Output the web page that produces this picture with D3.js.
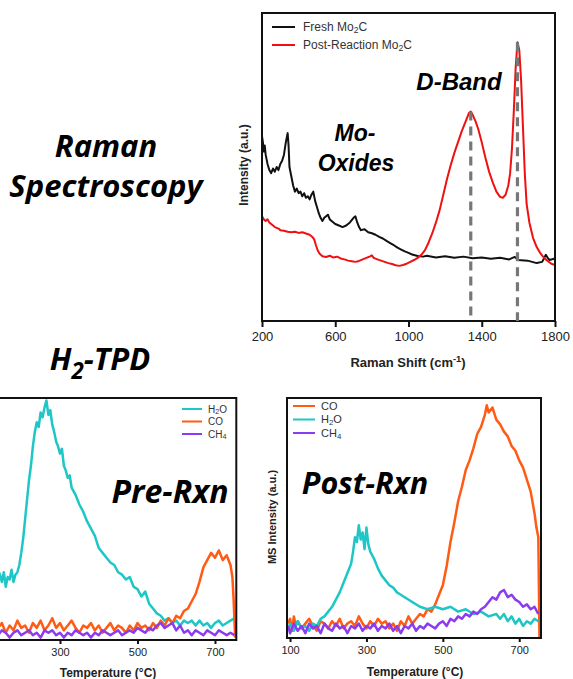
<!DOCTYPE html>
<html>
<head>
<meta charset="utf-8">
<script src="https://cdn.jsdelivr.net/npm/d3@7"></script>
<style>
  body { margin: 0; background: #fff; }
  svg { display: block; }
  .tick text { font-family: "Liberation Sans", Arial, sans-serif; }
  .big { font-family: "Open Sans", Lato, sans-serif; font-weight: bold; font-style: italic; }
  .note { font-family: "Liberation Sans", Arial, sans-serif; font-weight: bold; font-style: italic; }
</style>
</head>
<body>
<div id="chart"></div>
<script>
// Raman spectra, intensity in arbitrary units
var ramanTicks = [200, 600, 1000, 1400, 1800];
var freshMo2C = [[200,60],[205,58],[210,55],[215,57],[220,54],[230,51],[240,49],[250,48],[260,49.5],[270,48.5],[280,50],[290,49],[300,51],[310,52],[320,54],[330,58],[340,61],[345,57],[350,50],[360,47],[370,44],[380,42],[390,43],[400,41.5],[410,42],[420,40.5],[430,41.5],[440,40],[450,40.5],[460,39.5],[470,41],[480,42],[490,39],[500,37],[510,35],[520,33.5],[530,32.5],[540,33.5],[550,34],[560,34.5],[570,33],[580,32.5],[590,32],[600,31.5],[620,31],[640,30.5],[660,31],[680,32],[700,33.5],[710,34],[720,32],[730,30.5],[740,29.5],[760,29.8],[780,28.8],[800,28.5],[820,28],[840,27.3],[860,26.8],[880,26],[900,25.3],[920,24.6],[940,23.8],[960,23.2],[980,22.6],[1000,22.1],[1020,21.6],[1050,21.1],[1080,20.9],[1100,21.2],[1150,20.6],[1200,21],[1250,20.5],[1300,20.9],[1350,20.4],[1400,20.6],[1450,20.2],[1500,20.5],[1550,20],[1580,20.8],[1600,19.8],[1650,19.6],[1700,18.8],[1730,19.2],[1750,21.5],[1760,20.5],[1770,19.8],[1800,20.3]];
var postMo2C = [[200,34],[210,33],[220,32.5],[230,33],[240,32],[250,31.5],[270,30.5],[290,30],[300,29.5],[320,29.3],[340,29],[360,28.8],[380,29],[400,28.6],[420,28.8],[440,28.4],[460,28],[475,27.3],[485,26.5],[495,24.5],[505,22.8],[515,21.8],[530,21],[550,20.8],[570,21.2],[590,20.6],[610,20.9],[630,20.3],[650,20],[670,19.6],[690,19.4],[710,19.2],[730,19.5],[750,20],[770,20.5],[790,21],[800,21.3],[810,20.5],[830,20],[850,19.6],[870,19.2],[890,18.8],[910,18.5],[930,18.1],[950,17.9],[970,18.2],[990,18.6],[1010,19.2],[1030,19.8],[1050,20.5],[1070,21.5],[1090,23],[1110,25.5],[1130,28.5],[1150,32],[1170,36],[1190,41],[1210,46],[1230,50.5],[1250,54.5],[1270,58],[1290,61.5],[1310,64.5],[1330,67.5],[1340,68],[1350,67],[1365,65],[1380,62.5],[1400,58],[1420,53],[1440,48.5],[1460,45],[1480,42],[1500,40.3],[1515,40],[1530,41],[1545,44],[1555,48],[1565,56],[1575,68],[1585,82],[1595,90.5],[1605,88],[1615,78],[1625,63],[1635,48],[1645,38],[1660,32],[1680,27],[1700,24],[1720,22],[1740,20.5],[1760,19.5],[1780,18.6],[1800,18.2]];
// band markers: [shift, peak intensity]
var bandMarks = [[1340, 68], [1595, 90.5]];

// H2-TPD, MS intensity in arbitrary units
var tpdTicksPre = [300, 500, 700];
var tpdTicksPost = [100, 300, 500, 700];
var preH2O = [[140,29],[145,27],[150,24],[155,28],[160,22],[165,26],[170,25],[175,29],[180,24],[185,27],[190,28],[195,31],[200,36],[205,42],[210,50],[215,58],[220,66],[225,72],[230,80],[235,86],[240,90],[245,88],[250,94],[255,92],[260,96],[265,99],[270,93],[275,95],[280,89],[285,86],[290,82],[295,80],[300,77],[305,79],[310,72],[315,70],[320,67],[325,68],[330,63],[340,60],[350,56],[360,53],[370,49],[380,46],[390,43],[400,38],[410,36],[420,34],[430,32],[440,31],[450,28],[460,27],[470,25],[480,26],[490,22],[500,21],[510,18],[520,20],[530,15],[540,13],[550,11],[560,10],[570,8],[580,9],[590,7],[600,8],[610,6],[620,8],[630,7],[640,8],[650,6],[660,8],[670,6],[680,7],[690,5],[700,7],[710,8],[720,6],[730,7],[740,8],[750,9]];
var preCO = [[140,5],[150,7],[160,3],[170,6],[180,4],[190,8],[200,5],[210,6],[220,3],[230,7],[240,5],[250,8],[260,4],[270,6],[280,9],[290,5],[300,7],[310,4],[320,6],[330,8],[340,5],[350,3],[360,6],[370,5],[380,7],[390,4],[400,6],[410,3],[420,5],[430,7],[440,4],[450,6],[460,5],[470,3],[480,6],[490,4],[500,7],[510,5],[520,6],[530,4],[540,7],[550,5],[560,8],[570,6],[580,9],[590,7],[600,10],[610,9],[620,12],[630,13],[640,16],[650,19],[660,24],[670,30],[680,33],[690,36],[700,34],[710,37],[720,33],[730,35],[740,31],[745,26],[748,17],[752,1]];
var preCH4 = [[140,2],[150,4],[160,3],[170,1],[180,3],[190,4],[200,2],[210,3],[220,4],[230,2],[240,3],[250,1],[260,4],[270,3],[280,4],[290,2],[300,3],[310,1],[320,3],[330,2],[340,4],[350,3],[360,2],[370,3],[380,1],[390,3],[400,2],[410,4],[420,3],[430,2],[440,3],[450,4],[460,2],[470,3],[480,4],[490,3],[500,5],[510,4],[520,3],[530,5],[540,4],[550,6],[560,7],[570,5],[580,6],[590,7],[600,4],[610,6],[620,3],[630,4],[640,2],[650,4],[660,3],[670,2],[680,4],[690,3],[700,2],[710,4],[720,3],[730,2],[740,3],[750,2]];
var postCO = [[95,6],[100,8],[105,3],[110,9],[115,5],[120,7],[130,4],[140,6],[150,8],[160,5],[170,3],[180,7],[190,6],[200,4],[210,7],[220,5],[230,8],[240,4],[250,6],[260,7],[270,5],[280,9],[290,6],[300,4],[310,7],[320,5],[330,8],[340,6],[350,7],[360,4],[370,6],[380,3],[390,7],[400,5],[410,9],[420,6],[430,8],[440,10],[450,9],[460,12],[470,11],[480,14],[490,18],[500,22],[510,30],[520,40],[530,48],[540,57],[550,63],[560,70],[570,74],[580,79],[590,85],[600,88],[610,93],[615,97],[620,94],[630,96],[640,91],[650,89],[660,86],[670,84],[680,80],[690,78],[700,74],[710,71],[720,66],[730,61],[740,52],[745,46],[750,42],[753,0]];
var postH2O = [[95,4],[100,6],[110,3],[120,7],[130,4],[140,5],[150,3],[160,6],[170,5],[180,8],[190,9],[200,11],[210,13],[220,16],[230,19],[240,23],[250,27],[260,31],[265,36],[270,42],[275,40],[280,47],[285,41],[290,44],[295,37],[300,46],[305,39],[310,36],[320,33],[330,29],[340,26],[350,24],[360,22],[370,21],[380,19],[390,18],[400,17],[420,15],[440,13],[460,12],[480,13],[500,12],[520,13],[540,11],[560,12],[580,10],[600,11],[620,9],[640,10],[650,8],[660,10],[670,7],[680,9],[690,6],[700,8],[710,5],[720,7],[730,6],[740,8],[750,7]];
var postCH4 = [[95,5],[100,2],[110,6],[120,3],[130,5],[140,2],[150,6],[160,4],[170,5],[180,2],[190,6],[200,4],[210,3],[220,6],[230,4],[240,5],[250,2],[260,5],[270,4],[280,6],[290,3],[300,5],[310,4],[320,6],[330,3],[340,5],[350,4],[360,6],[370,3],[380,5],[390,2],[400,5],[410,4],[420,6],[430,3],[440,5],[450,4],[460,6],[470,5],[480,4],[490,6],[500,7],[510,5],[520,8],[530,7],[540,9],[550,8],[560,10],[570,9],[580,11],[590,10],[600,12],[610,13],[620,15],[630,17],[640,16],[650,19],[660,20],[670,17],[680,18],[690,16],[700,15],[710,13],[720,14],[730,12],[740,13],[750,10]];

var colH2O = "#1ec6c6", colCO = "#ff5b14", colCH4 = "#8c3cf0";

var WIDTH = 573, HEIGHT = 679;
var svg = d3.select("#chart").append("svg")
    .attr("width", WIDTH)
    .attr("height", HEIGHT);

// writes text pieces, "sub" / "sup" pieces get shifted, others sit on the baseline
var addSub = function (text, parts, subShift) {
    var shift = 0;
    var down = subShift || 0.3;
    parts.forEach(function (p) {
        var target = p[1] === "sub" ? down : (p[1] === "sup" ? -0.4 : 0);
        var t = text.append("tspan").text(p[0]);
        if (p[1]) t.attr("font-size", "0.72em");
        var dy = target - shift;
        // em of a small tspan is smaller, so scale the shift
        if (dy !== 0) t.attr("dy", (p[1] ? dy / 0.72 : dy) + "em");
        shift = target;
    });
};

var drawPanel = function (opt) {
    var g = svg.append("g");
    var x = d3.scaleLinear().domain(opt.xDomain).range([opt.left, opt.right]);
    var y = d3.scaleLinear().domain([0, 100]).range([opt.bottom, opt.top]);

    var clipId = "clip" + opt.id;
    svg.append("clipPath").attr("id", clipId)
        .append("rect")
        .attr("x", opt.left).attr("y", opt.top)
        .attr("width", opt.right - opt.left).attr("height", opt.bottom - opt.top);

    var line = d3.line().x(function (d) { return x(d[0]); }).y(function (d) { return y(d[1]); });
    var plot = g.append("g").attr("clip-path", "url(#" + clipId + ")");
    opt.series.forEach(function (s) {
        plot.append("path")
            .datum(s.data)
            .attr("fill", "none")
            .attr("stroke", s.color)
            .attr("stroke-width", opt.lineWidth)
            .attr("stroke-linejoin", "round")
            .attr("d", line);
    });

    g.append("rect")
        .attr("x", opt.left).attr("y", opt.top)
        .attr("width", opt.right - opt.left).attr("height", opt.bottom - opt.top)
        .attr("fill", "none").attr("stroke", "#111").attr("stroke-width", 2);

    var ax = g.append("g")
        .attr("transform", "translate(0," + opt.bottom + ")")
        .call(d3.axisBottom(x).tickValues(opt.ticks).tickFormat(d3.format("d"))
            .tickSize(opt.tickSize).tickSizeOuter(0).tickPadding(opt.tickPad));
    ax.select(".domain").remove();
    ax.selectAll(".tick line").attr("stroke", "#111").attr("stroke-width", 2);
    ax.selectAll(".tick text").attr("font-size", opt.tickFont).attr("fill", "#222");

    // legend
    opt.series.forEach(function (s, i) {
        var ly = opt.legY + i * opt.legDy;
        g.append("line")
            .attr("x1", opt.legX).attr("x2", opt.legX + opt.legLen)
            .attr("y1", ly).attr("y2", ly)
            .attr("stroke", s.color).attr("stroke-width", 2);
        var t = g.append("text")
            .attr("x", opt.legX + opt.legLen + opt.legGap).attr("y", ly + opt.legFont * 0.36)
            .attr("font-family", "Liberation Sans, Arial, sans-serif")
            .attr("font-size", opt.legFont)
            .attr("fill", "#333");
        addSub(t, s.label, 0.18);
    });

    return {x: x, y: y, g: g};
};

// Raman panel
var raman = drawPanel({
    id: "raman", xDomain: [200, 1800], left: 262, right: 555, top: 13, bottom: 321,
    ticks: ramanTicks, tickSize: 6, tickPad: 5, tickFont: 13, lineWidth: 2,
    legX: 272, legY: 27, legDy: 18, legLen: 23, legGap: 8, legFont: 12,
    series: [
        {data: freshMo2C, color: "#111", label: [["Fresh Mo"], ["2", "sub"], ["C"]]},
        {data: postMo2C, color: "#f01010", label: [["Post-Reaction Mo"], ["2", "sub"], ["C"]]}
    ]
});
raman.g.selectAll(".mark").data(bandMarks).enter().append("line")
    .attr("x1", function (d) { return raman.x(d[0]); })
    .attr("x2", function (d) { return raman.x(d[0]); })
    .attr("y1", function (d) { return raman.y(d[1]); })
    .attr("y2", 321)
    .attr("stroke", "#777").attr("stroke-width", 3.2)
    .attr("stroke-dasharray", "9,6");
raman.g.append("text")
    .attr("x", 408).attr("y", 367)
    .attr("text-anchor", "middle")
    .attr("font-family", "Liberation Sans, Arial, sans-serif")
    .attr("font-weight", "bold").attr("font-size", 13).attr("fill", "#222")
    .call(function (t) { addSub(t, [["Raman Shift (cm"], ["-1", "sup"], [")"]]); });
raman.g.append("text")
    .attr("transform", "translate(248,165) rotate(-90)")
    .attr("text-anchor", "middle")
    .attr("font-family", "Liberation Sans, Arial, sans-serif")
    .attr("font-weight", "bold").attr("font-size", 12).attr("fill", "#222")
    .text("Intensity (a.u.)");

// Pre-reaction TPD
var pre = drawPanel({
    id: "pre", xDomain: [40, 755], left: -40.75, right: 236.3, top: 398, bottom: 640,
    ticks: tpdTicksPre, tickSize: 4, tickPad: 4, tickFont: 11, lineWidth: 2.5,
    legX: 182, legY: 409, legDy: 12.5, legLen: 20, legGap: 6, legFont: 10,
    series: [
        {data: preH2O, color: colH2O, label: [["H"], ["2", "sub"], ["O"]]},
        {data: preCO, color: colCO, label: [["CO"]]},
        {data: preCH4, color: colCH4, label: [["CH"], ["4", "sub"]]}
    ]
});

// Post-reaction TPD
var post = drawPanel({
    id: "post", xDomain: [92, 757], left: 287, right: 541, top: 398, bottom: 638,
    ticks: tpdTicksPost, tickSize: 4, tickPad: 4, tickFont: 11, lineWidth: 2.5,
    legX: 293, legY: 406, legDy: 13.5, legLen: 22, legGap: 6, legFont: 11,
    series: [
        {data: postCO, color: colCO, label: [["CO"]]},
        {data: postH2O, color: colH2O, label: [["H"], ["2", "sub"], ["O"]]},
        {data: postCH4, color: colCH4, label: [["CH"], ["4", "sub"]]}
    ]
});

[[108, 677], [415, 676]].forEach(function (p) {
    svg.append("text")
        .attr("x", p[0]).attr("y", p[1])
        .attr("text-anchor", "middle")
        .attr("font-family", "Liberation Sans, Arial, sans-serif")
        .attr("font-weight", "bold").attr("font-size", 12).attr("fill", "#222")
        .text("Temperature (\u00b0C)");
});
svg.append("text")
    .attr("transform", "translate(276,517) rotate(-90)")
    .attr("text-anchor", "middle")
    .attr("font-family", "Liberation Sans, Arial, sans-serif")
    .attr("font-weight", "bold").attr("font-size", 11).attr("fill", "#222")
    .text("MS Intensity (a.u.)");

// annotations
var big = function (x, y, size, parts) {
    var t = svg.append("text").attr("class", "big")
        .attr("x", x).attr("y", y)
        .attr("text-anchor", "middle")
        .attr("font-size", size).attr("fill", "#000");
    addSub(t, parts);
};
big(106, 157, 31, [["Raman"]]);
big(106, 197, 31, [["Spectroscopy"]]);
big(100, 370, 31, [["H"], ["2", "sub"], ["-TPD"]]);
big(170, 503, 32, [["Pre-Rxn"]]);
big(365, 494, 30.5, [["Post-Rxn"]]);

svg.append("text").attr("class", "note").attr("x", 459).attr("y", 90)
    .attr("text-anchor", "middle").attr("font-size", 24).text("D-Band");
svg.append("text").attr("class", "note").attr("x", 355).attr("y", 141)
    .attr("text-anchor", "middle").attr("font-size", 23).text("Mo-");
svg.append("text").attr("class", "note").attr("x", 356).attr("y", 171)
    .attr("text-anchor", "middle").attr("font-size", 23).text("Oxides");
</script>
</body>
</html>
